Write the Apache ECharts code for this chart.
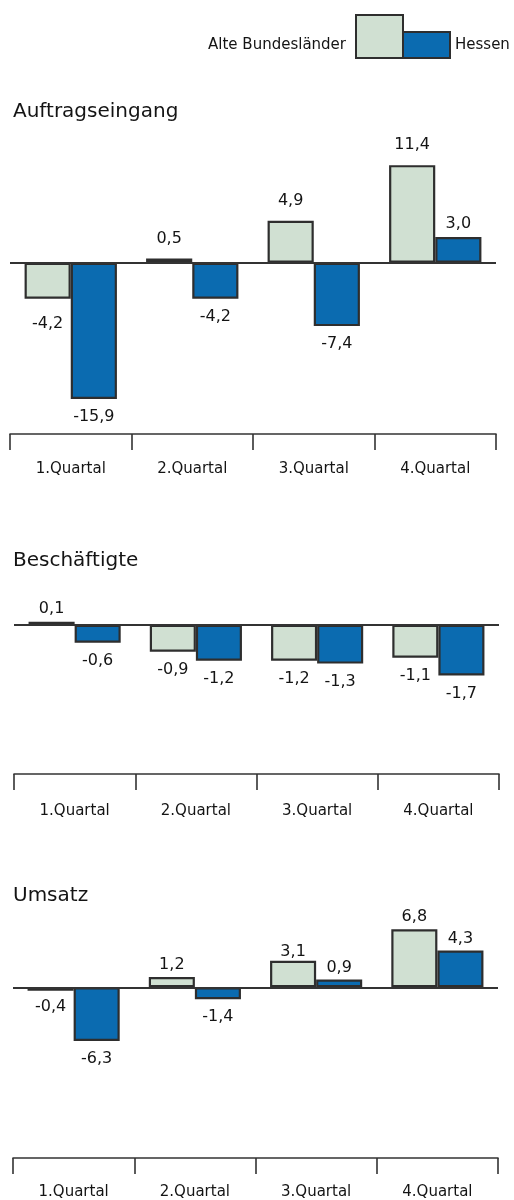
<!DOCTYPE html>
<html>
<head>
<meta charset="utf-8">
<script src="https://cdn.jsdelivr.net/npm/echarts@6/dist/echarts.min.js"></script>
<style>
html,body{margin:0;padding:0;background:#fff;}
#chart{width:514px;height:1200px;}
</style>
</head>
<body>
<div id="chart"></div>
<script>
// ---- data ----
const quarters = ['1.Quartal', '2.Quartal', '3.Quartal', '4.Quartal'];
const seriesNames = ['Alte Bundesländer', 'Hessen'];
const panelTitles = ['Auftragseingang', 'Beschäftigte', 'Umsatz'];
const auftragAlte = [-4.2, 0.5, 4.9, 11.4];
const auftragHessen = [-15.9, -4.2, -7.4, 3.0];
const beschAlte = [0.1, -0.9, -1.2, -1.1];
const beschHessen = [-0.6, -1.2, -1.3, -1.7];
const umsatzAlte = [-0.4, 1.2, 3.1, 6.8];
const umsatzHessen = [-6.3, -1.4, 0.9, 4.3];

// ---- layout / style ----
const FONT = 'DejaVu Sans';
const TXT = '#141414';
const LIGHT = '#d0e0d2';
const BLUE = '#0b6bb0';
const EDGE = '#2e2e2e';

const layout = [
  {alte: auftragAlte, hessen: auftragHessen, grid: {left: 10, width: 486, top: 160, height: 274}, min: -20, max: 12, titleTop: 97, up: 12, down: 10, margin: 28},
  {alte: beschAlte, hessen: beschHessen, grid: {left: 14, width: 485, top: 595, height: 179}, min: -5, max: 1, titleTop: 546, up: 5, down: 10, margin: 30},
  {alte: umsatzAlte, hessen: umsatzHessen, grid: {left: 13, width: 485, top: 919, height: 240}, min: -20, max: 8, titleTop: 881, up: 4, down: 10, margin: 27}
];
// individual label distance adjustments: panel-series-index
const labelNudge = {'0-0-0': 17, '0-1-3': 5, '2-0-2': 1, '2-0-0': 8};

const fmt = v => v.toFixed(1).replace('.', ',');

const titles = [], grids = [], xAxes = [], yAxes = [], series = [];
layout.forEach((p, pi) => {
  titles.push({text: panelTitles[pi], left: 8, top: p.titleTop,
    textStyle: {fontFamily: FONT, fontSize: 20, fontWeight: 'normal', color: TXT}});
  grids.push(Object.assign({containLabel: false}, p.grid));
  xAxes.push({type: 'category', gridIndex: pi, data: quarters, boundaryGap: true,
    axisLine: {onZero: false, lineStyle: {color: '#333', width: 1.6}},
    axisTick: {show: true, length: 16, inside: false, lineStyle: {color: '#333', width: 1.6}},
    axisLabel: {margin: p.margin, fontFamily: FONT, fontSize: 15, color: TXT}});
  yAxes.push({type: 'value', gridIndex: pi, min: p.min, max: p.max, show: false, splitLine: {show: false}});
  [p.alte, p.hessen].forEach((vals, si) => {
    const s = {
      name: seriesNames[si], type: 'bar', xAxisIndex: pi, yAxisIndex: pi,
      barGap: '0%', barCategoryGap: '24%',
      itemStyle: {color: si === 0 ? LIGHT : BLUE, borderColor: EDGE, borderWidth: 2.2},
      label: {show: true, formatter: d => fmt(d.value), fontFamily: FONT, fontSize: 16, color: TXT},
      data: vals.map((v, i) => {
        const key = pi + '-' + si + '-' + i;
        const dist = labelNudge[key] !== undefined ? labelNudge[key] : (v >= 0 ? p.up : p.down);
        return {value: v, label: {position: v >= 0 ? 'top' : 'bottom', distance: dist}};
      })
    };
    if (si === 0) {
      s.markLine = {silent: true, symbol: 'none', label: {show: false},
        lineStyle: {color: '#333', width: 1.8, type: 'solid'}, data: [{yAxis: 0}]};
    }
    series.push(s);
  });
});

const chart = echarts.init(document.getElementById('chart'), null, {renderer: 'canvas'});
chart.setOption({
  animation: false,
  backgroundColor: '#fff',
  title: titles,
  grid: grids,
  xAxis: xAxes,
  yAxis: yAxes,
  series: series,
  graphic: [
    {type: 'text', right: 514 - 346, top: 38, style: {text: seriesNames[0], fontFamily: FONT, fontSize: 15, fill: TXT}},
    {type: 'rect', shape: {x: 356, y: 15, width: 47, height: 43}, style: {fill: LIGHT, stroke: EDGE, lineWidth: 2}},
    {type: 'rect', shape: {x: 403, y: 32, width: 47, height: 26}, style: {fill: BLUE, stroke: EDGE, lineWidth: 2}},
    {type: 'text', left: 455, top: 38, style: {text: seriesNames[1], fontFamily: FONT, fontSize: 15, fill: TXT}}
  ]
});
</script>
</body>
</html>
